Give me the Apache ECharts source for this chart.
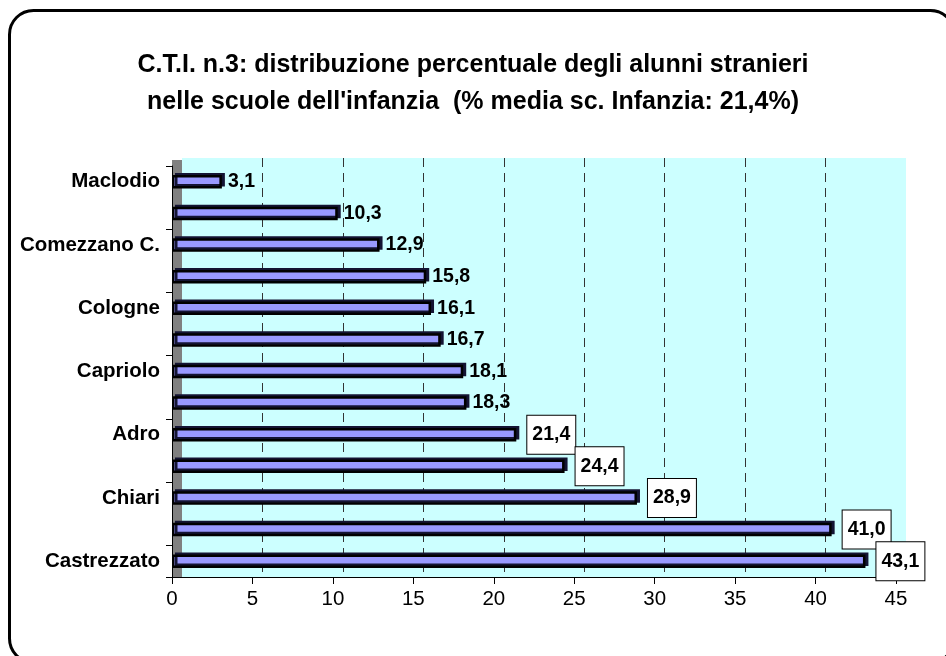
<!DOCTYPE html>
<html>
<head>
<meta charset="utf-8">
<script src="https://cdn.jsdelivr.net/npm/echarts@6/dist/echarts.min.js"></script>
<style>
  html, body { margin: 0; padding: 0; background: #fff; }
  #main { width: 946px; height: 656px; }
</style>
</head>
<body>
<div id="main"></div>
<script>
// comuni, dall'alto verso il basso (le etichette visibili sono una si e una no)
var comuni = ['Maclodio', 'Rudiano', 'Comezzano C.', 'Coccaglio', 'Cologne', 'Erbusco',
  'Capriolo', 'Palazzolo s/O', 'Adro', 'Pontoglio', 'Chiari', 'Rovato', 'Castrezzato'];
var percentuali = [3.1, 10.3, 12.9, 15.8, 16.1, 16.7, 18.1, 18.3, 21.4, 24.4, 28.9, 41.0, 43.1];
var mediaInfanzia = 21.4;
var xTicks = [0, 5, 10, 15, 20, 25, 30, 35, 40, 45];

var FONT = 'Liberation Sans, Arial, sans-serif';

var chart = echarts.init(document.getElementById('main'));

// etichette sopra la media: nel riquadro bianco
var boxed = {
  backgroundColor: '#fff',
  borderColor: '#000',
  borderWidth: 1,
  padding: [9, 5, 9, 5],
  distance: 11
};
var seriesData = percentuali.map(function (v) {
  var item = { value: v };
  if (v >= mediaInfanzia) item.label = boxed;
  return item;
});

var hiddenAxis = {
  axisLine: { show: false },
  axisTick: { show: false },
  axisLabel: { show: false },
  splitLine: { show: false }
};

var option = {
  animation: false,
  backgroundColor: '#fff',
  title: {
    text: "C.T.I. n.3: distribuzione percentuale degli alunni stranieri\nnelle scuole dell'infanzia  (% media sc. Infanzia: " +
      mediaInfanzia.toFixed(1).replace('.', ',') + '%)',
    left: 'center',
    top: 42,
    textStyle: {
      fontFamily: FONT,
      fontSize: 25,
      fontWeight: 'bold',
      color: '#000',
      lineHeight: 37
    }
  },
  graphic: [{
    type: 'rect',
    shape: { x: 9.5, y: 10.5, width: 945, height: 652, r: 24 },
    style: { fill: 'none', stroke: '#000', lineWidth: 3 },
    silent: true,
    z: 100
  }],
  grid: [
    // parete di fondo (3D)
    { left: 182, top: 158, width: 724, height: 419, show: true, backgroundColor: '#ccffff', borderWidth: 0 },
    // parete laterale
    { left: 177, top: 160, width: 724, height: 417 },
    // piano frontale
    { left: 172, top: 166, width: 724, height: 411 }
  ],
  xAxis: [{
    gridIndex: 0,
    type: 'value',
    min: xTicks[0],
    max: xTicks[xTicks.length - 1],
    interval: 5,
    axisLine: { show: false },
    axisTick: { show: false },
    axisLabel: { show: false },
    splitLine: {
      show: true,
      showMinLine: false,
      showMaxLine: false,
      lineStyle: { color: '#333', type: [9, 6], width: 1 }
    }
  }, Object.assign({
    gridIndex: 1,
    type: 'value',
    min: 0,
    max: 45
  }, hiddenAxis), {
    gridIndex: 2,
    type: 'value',
    min: xTicks[0],
    max: xTicks[xTicks.length - 1],
    interval: 5,
    axisLine: { show: true, lineStyle: { color: '#000', width: 1 } },
    axisTick: { show: true, length: 7, lineStyle: { color: '#000' } },
    axisLabel: { fontFamily: FONT, fontSize: 20.5, color: '#000', margin: 12 },
    splitLine: { show: false }
  }],
  yAxis: [Object.assign({
    gridIndex: 0,
    type: 'category',
    data: comuni,
    inverse: true
  }, hiddenAxis), {
    // parete laterale grigia
    gridIndex: 1,
    type: 'category',
    data: comuni,
    inverse: true,
    axisLine: { show: true, lineStyle: { color: '#808080', width: 10, cap: 'butt' } },
    axisTick: { show: false },
    axisLabel: { show: false },
    splitLine: { show: false }
  }, {
    gridIndex: 2,
    type: 'category',
    data: comuni,
    inverse: true,
    axisLine: { show: true, lineStyle: { color: '#000', width: 1 } },
    axisTick: { show: true, length: 6, lineStyle: { color: '#000' } },
    axisLabel: {
      interval: 1,
      fontFamily: FONT,
      fontSize: 20.5,
      fontWeight: 'bold',
      color: '#000',
      margin: 12
    }
  }],
  series: [{
    type: 'bar',
    xAxisIndex: 2,
    yAxisIndex: 2,
    barWidth: 13.5,
    data: seriesData,
    itemStyle: {
      color: '#9999ff',
      borderColor: '#000',
      borderWidth: 2.5,
      shadowColor: '#141433',
      shadowOffsetX: 3,
      shadowOffsetY: -2,
      shadowBlur: 0
    },
    label: {
      show: true,
      position: 'right',
      distance: 6,
      fontFamily: FONT,
      fontSize: 19.5,
      fontWeight: 'bold',
      color: '#000',
      formatter: function (p) {
        return p.value.toFixed(1).replace('.', ',');
      }
    }
  }]
};

chart.setOption(option);
</script>
</body>
</html>
